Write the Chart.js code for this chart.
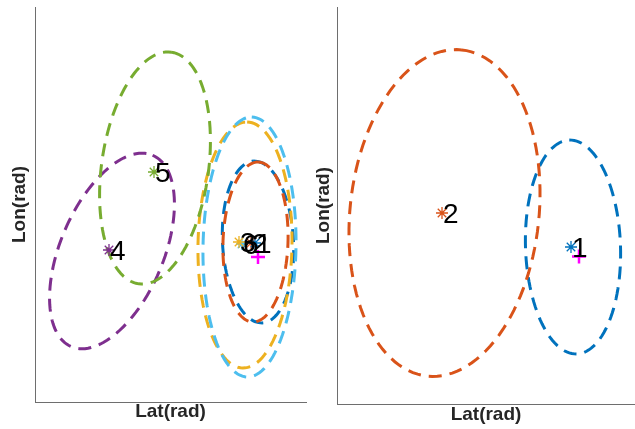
<!DOCTYPE html>
<html>
<head>
<meta charset="utf-8">
<script src="https://cdn.jsdelivr.net/npm/chart.js@4/dist/chart.umd.min.js"></script>
<style>
  body { margin: 0; background: #fff; }
  #wrap { position: relative; width: 635px; height: 429px; }
  .panel { position: absolute; top: 0; }
</style>
</head>
<body>
<div id="wrap">
  <div class="panel" style="left:0"><canvas id="left" width="318" height="429"></canvas></div>
  <div class="panel" style="left:300px"><canvas id="right" width="335" height="429"></canvas></div>
</div>
<script>
// colours per track id (MATLAB default order)
const trackColors = ["#0072BD", "#D95319", "#EDB120", "#7E2F8E", "#77AC30", "#4DBEEE"];

// left panel: ellipse centre, semi axes, tilt in degrees
const leftIds = [1, 2, 3, 4, 5, 6];
const leftCx = [22.3, 22.05, 21.0, 7.7, 12.0, 21.45];
const leftCy = [16.0, 16.0, 15.7, 15.1, 23.4, 15.5];
const leftMajor = [8.1, 8.0, 12.3, 10.4, 11.7, 13.0];
const leftMinor = [3.55, 3.25, 4.7, 5.15, 5.35, 4.65];
const leftTilt = [-3, 2, 1, 23, 8, 1];
const leftStarX = [22.0, 21.6, 20.4, 7.4, 11.9, 20.7];
const leftStarY = [15.9, 15.9, 16.0, 15.2, 23.0, 15.8];
const leftTruth = [22.3, 14.5];
const leftRange = { x: [0, 27.1], y: [0, 39.5] };

// right panel
const rightIds = [1, 2];
const rightCx = [23.6, 10.75];
const rightCy = [15.7, 19.1];
const rightMajor = [10.7, 16.4];
const rightMinor = [4.75, 9.45];
const rightTilt = [-2, 6];
const rightStarX = [23.4, 10.5];
const rightStarY = [15.7, 19.1];
const rightTruth = [24.2, 14.75];
const rightRange = { x: [0, 29.8], y: [0, 39.7] };

function ellipse(cx, cy, a, b, tiltDeg) {
  const t = tiltDeg * Math.PI / 180;
  const pts = [];
  for (let i = 0; i <= 120; i++) {
    const s = (i / 120) * 2 * Math.PI;
    const u = a * Math.cos(s), v = b * Math.sin(s);
    pts.push({ x: cx + u * Math.sin(t) + v * Math.cos(t), y: cy + u * Math.cos(t) - v * Math.sin(t) });
  }
  return pts;
}

const idLabels = {
  id: "idLabels",
  afterDatasetsDraw(chart, args, opts) {
    const { ctx, scales: { x, y } } = chart;
    ctx.save();
    ctx.font = "28px 'Liberation Sans', Arial, sans-serif";
    ctx.fillStyle = "#000";
    ctx.textAlign = "left";
    ctx.textBaseline = "alphabetic";
    opts.ids.forEach((id, i) => {
      ctx.fillText(String(id), x.getPixelForValue(opts.xs[i]) + 1, y.getPixelForValue(opts.ys[i]) + 10);
    });
    ctx.restore();
  }
};

function makeChart(canvasId, p) {
  const datasets = [];
  datasets.push({
    data: [{ x: p.truth[0], y: p.truth[1] }],
    pointStyle: "cross", pointRadius: 7, borderColor: "#FF00FF", borderWidth: 2.5,
    backgroundColor: "#FF00FF"
  });
  p.ids.forEach((id, i) => {
    datasets.push({
      data: [{ x: p.sx[i], y: p.sy[i] }],
      pointStyle: "star", pointRadius: 6, borderWidth: 1.3,
      borderColor: trackColors[id - 1], backgroundColor: trackColors[id - 1]
    });
  });
  // later ids go on top, so push them first
  p.ids.slice().reverse().forEach((id) => {
    const i = p.ids.indexOf(id);
    datasets.push({
      data: ellipse(p.cx[i], p.cy[i], p.major[i], p.minor[i], p.tilt[i]),
      showLine: true, pointRadius: 0, borderWidth: 3, borderDash: [13, 8],
      borderColor: trackColors[id - 1], fill: false, tension: 0
    });
  });

  return new Chart(document.getElementById(canvasId), {
    type: "scatter",
    data: { datasets },
    plugins: [idLabels],
    options: {
      responsive: false,
      animation: false,
      events: [],
      layout: { autoPadding: false, padding: p.padding },
      plugins: {
        legend: { display: false },
        tooltip: { enabled: false },
        idLabels: { ids: p.ids, xs: p.sx, ys: p.sy }
      },
      scales: {
        x: {
          min: p.range.x[0], max: p.range.x[1],
          ticks: { display: false },
          grid: { display: false },
          border: { display: true, color: "#6e6e6e", width: 1 },
          title: {
            display: true, text: "Lat(rad)", color: "#262626",
            font: { family: "'Liberation Sans', Arial, sans-serif", size: 19, weight: "bold" },
            padding: { top: 0, bottom: p.xTitlePad }
          },
          afterFit: (scale) => { scale.height = p.xHeight; }
        },
        y: {
          min: p.range.y[0], max: p.range.y[1],
          ticks: { display: false },
          grid: { display: false },
          border: { display: true, color: "#6e6e6e", width: 1 },
          title: {
            display: true, text: "Lon(rad)", color: "#262626",
            font: { family: "'Liberation Sans', Arial, sans-serif", size: 19, weight: "bold" },
            padding: { top: p.yTitlePad, bottom: 0 }
          },
          afterFit: (scale) => { scale.width = p.yWidth; }
        }
      }
    }
  });
}

makeChart("left", {
  ids: leftIds, cx: leftCx, cy: leftCy, major: leftMajor, minor: leftMinor, tilt: leftTilt,
  sx: leftStarX, sy: leftStarY, truth: leftTruth, range: leftRange,
  padding: { top: 7, right: 12, left: 0, bottom: 0 },
  xHeight: 27, yWidth: 35, xTitlePad: 6, yTitlePad: 8
});

makeChart("right", {
  ids: rightIds, cx: rightCx, cy: rightCy, major: rightMajor, minor: rightMinor, tilt: rightTilt,
  sx: rightStarX, sy: rightStarY, truth: rightTruth, range: rightRange,
  padding: { top: 7, right: 0, left: 0, bottom: 0 },
  xHeight: 25, yWidth: 37, xTitlePad: 3, yTitlePad: 12
});
</script>
</body>
</html>
